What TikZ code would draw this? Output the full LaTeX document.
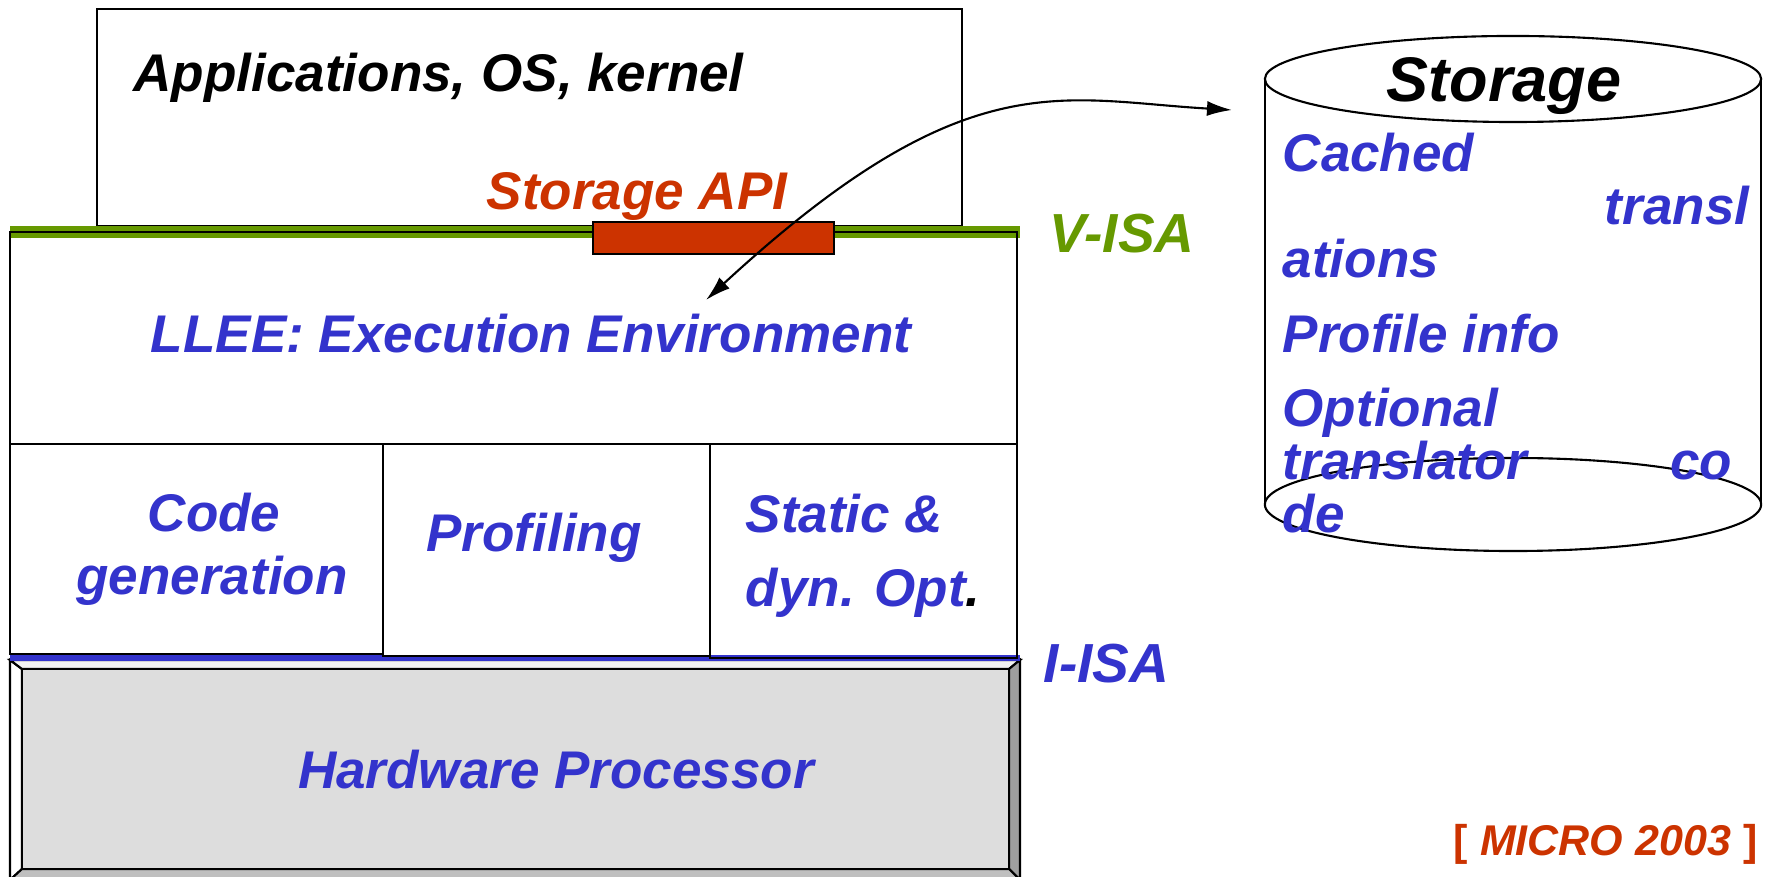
\documentclass[tikz,border=0pt]{standalone}
\usepackage{fontspec}
\setmainfont{Liberation Sans}
\usetikzlibrary{arrows.meta,positioning}

\definecolor{llblue}{HTML}{3333CC}
\definecolor{llred}{HTML}{CC3300}
\definecolor{llgreen}{HTML}{669900}
\definecolor{hwgray}{HTML}{DDDDDD}

\begin{document}
\begin{tikzpicture}[
  x=0.01cm, y=-0.01cm,
  >={Latex[length=2.5mm,width=1.5mm]},
  layer/.style={
    rectangle, draw=black, line width=0.6pt, inner sep=0pt
  },
  txt/.style={
    inner sep=0pt, text=llblue,
    font=\fontsize{15.08}{18}\selectfont\bfseries\itshape
  },
  isa/.style={
    inner sep=0pt,
    font=\fontsize{15.65}{19}\selectfont\bfseries\itshape
  },
  big/.style={
    inner sep=0pt,
    font=\fontsize{17.92}{21}\selectfont\bfseries\itshape
  },
  bevel/.style={draw=black, line width=0.6pt}
]

\fill[white] (0,0) rectangle (1770,877);
\useasboundingbox (0,0) rectangle (1770,877);

% -- Camada superior --
\node[layer, minimum width=8.65cm, minimum height=2.17cm] (apps) at (529.5,117.5) {};
\node[txt, text=black, anchor=base west] (appstxt) at (133,92) {Applications, OS, kernel};

% -- V-ISA --
\draw[llgreen, line width=3.4pt] (10,232) -- (1020,232);
\node[isa, text=llgreen, anchor=base west] (visa) at (1049,253) {V-ISA};

% -- LLEE --
\node[layer, minimum width=10.07cm, minimum height=2.12cm] (llee) at (513.5,338) {};
\node[txt, anchor=base] (lleetxt) at (531,353) {LLEE: Execution Environment};

% -- Storage API --
\node[layer, fill=llred, minimum width=2.41cm, minimum height=0.32cm] (api) at (713.5,238) {};
\node[txt, text=llred, anchor=base west] (apitxt) at (486,210) {Storage API};

% -- Hardware --
\filldraw[bevel, fill=white]   (10,660) -- (22,669) -- (22,869) -- (10,880) -- cycle;
\filldraw[bevel, fill=gray!10] (10,660) -- (1020,660) -- (1009,669) -- (22,669) -- cycle;
\filldraw[bevel, fill=gray!75] (1020,660) -- (1020,880) -- (1009,869) -- (1009,669) -- cycle;
\filldraw[bevel, fill=gray!50] (10,880) -- (1020,880) -- (1009,869) -- (22,869) -- cycle;
\node[layer, fill=hwgray, minimum width=9.87cm, minimum height=2.00cm] (hw) at (515.5,769) {};
\node[txt, anchor=base] (hwtxt) at (556,788) {Hardware Processor};

% -- I-ISA --
\draw[llblue, line width=1.7pt] (10,658) -- (1020,658);
\node[isa, text=llblue, anchor=base west] (iisa) at (1043,683) {I-ISA};

% -- Componentes do LLEE --
\node[layer, minimum width=3.73cm, minimum height=2.10cm] (codegen) at (196.5,549) {};
\node[layer, minimum width=3.27cm, minimum height=2.12cm] (prof)    at (546.5,550) {};
\node[layer, minimum width=3.07cm, minimum height=2.14cm] (opt)     at (863.5,551) {};

\node[txt, anchor=base] (codetxt) at (214,532) {Code};
\node[txt, anchor=base] (gentxt)  at (212,595) {generation};
\node[txt, anchor=base] (proftxt) at (534,552) {Profiling};
\node[txt, anchor=base west] (stattxt) at (745,533) {Static \&};
\node[txt, anchor=base west] (dyntxt)  at (745,607) {dyn. Opt\textcolor{black}{.}};

% -- Storage --
\draw[line width=0.6pt] (1513,79) ellipse [x radius=2.48cm, y radius=0.43cm];
\draw[line width=0.6pt] (1513,504.5) ellipse [x radius=2.48cm, y radius=0.465cm];
\draw[line width=0.6pt] (1265,79) -- (1265,504.5);
\draw[line width=0.6pt] (1761,79) -- (1761,504.5);

\node[big, anchor=base] (storetxt) at (1504,102) {Storage};
\node[txt, anchor=base west] (cached) at (1282,172) {Cached};
\node[txt, anchor=base east] (transl) at (1750,225) {transl};
\node[txt, anchor=base west] (ations) at (1282,278) {ations};
\node[txt, anchor=base west] (profinfo) at (1282,353) {Profile info};
\node[txt, anchor=base west] (optional) at (1282,427) {Optional};
\node[txt, anchor=base west] (translator) at (1282,480) {translator};
\node[txt, anchor=base east] (co) at (1733,480) {co};
\node[txt, anchor=base west] (de) at (1282,533) {de};

% -- Conexao --
\coordinate (lleein)  at (706,300);
\coordinate (storein) at (1232,110);
\draw[<->, line width=0.6pt] (lleein) .. controls (966,60) and (1060,100) .. (storein);

% -- Referencia --
\node[inner sep=0pt, text=llred, anchor=base east,
      font=\fontsize{12.23}{15}\selectfont\bfseries] (micro) at (1758,856) {[ \textit{MICRO 2003} ]};

\end{tikzpicture}
\end{document}
